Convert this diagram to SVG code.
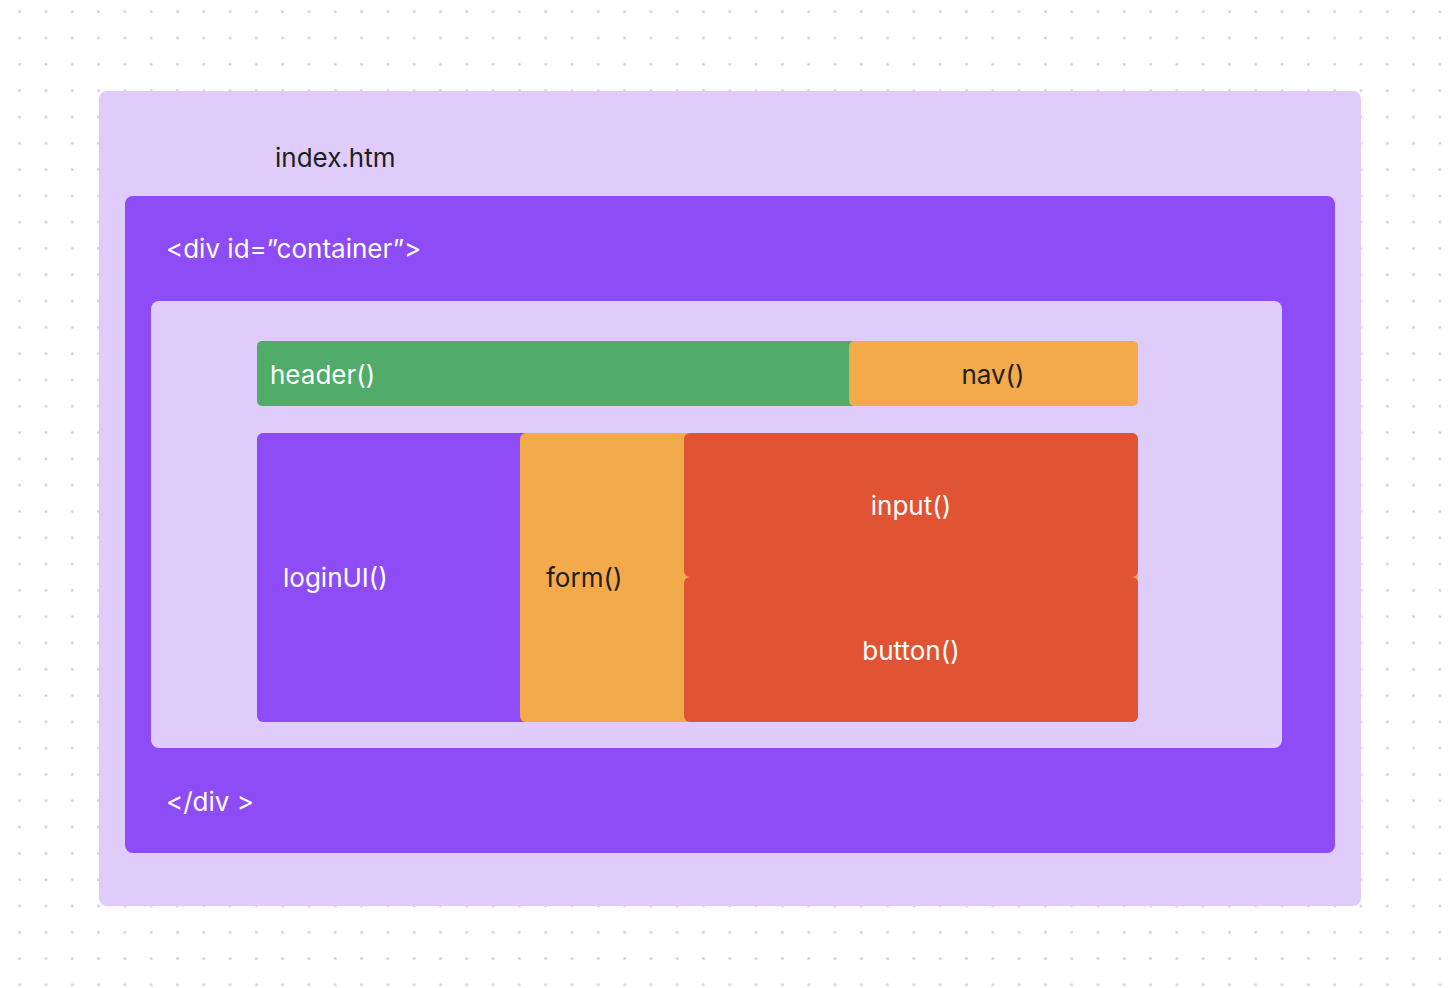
<svg xmlns="http://www.w3.org/2000/svg" width="1448" height="988" viewBox="0 0 1448 988">
  <defs>
    <pattern id="dots" patternUnits="userSpaceOnUse" x="6.55" y="-1.45" width="26.3" height="26.3">
      <circle cx="13.15" cy="13.15" r="1.5" fill="#d4d4d4"/>
    </pattern>
    <style>
      .lbl { font-family: Inter, "Liberation Sans", sans-serif; font-size: 26px; }
      .w { fill: #ffffff; }
      .d { fill: #1e1e1e; }
      .lav { fill: #e0ccfa; }
      .pur { fill: #8d4cf6; }
      .grn { fill: #50ac68; }
      .org { fill: #f2aa4a; }
      .red { fill: #e05433; }
    </style>
  </defs>
  <rect width="1448" height="988" fill="#ffffff"/>
  <rect width="1448" height="988" fill="url(#dots)"/>

  <g id="index-htm">
    <rect class="lav" x="99" y="91" width="1262" height="815" rx="8"/>
    <text class="lbl d" x="275" y="167">index.htm</text>
  </g>
  <g id="container">
    <rect class="pur" x="125" y="196" width="1210" height="657" rx="8"/>
    <text class="lbl w" x="166" y="258" font-size="25.6">&lt;div id=”container”&gt;</text>
    <text class="lbl w" x="166" y="811">&lt;/div &gt;</text>
  </g>
  <g id="content">
    <rect class="lav" x="151" y="301" width="1131" height="447" rx="8"/>
  </g>
  <g id="header">
    <rect class="grn" x="257" y="341" width="650" height="65" rx="5"/>
    <text class="lbl w" x="270" y="384">header()</text>
  </g>
  <g id="nav">
    <rect class="org" x="849" y="341" width="289" height="65" rx="5"/>
    <text class="lbl d" x="993" y="384" text-anchor="middle">nav()</text>
  </g>
  <g id="loginUI">
    <rect class="pur" x="257" y="433" width="300" height="289" rx="6"/>
    <text class="lbl w" x="283" y="587">loginUI()</text>
  </g>
  <g id="form">
    <rect class="org" x="520" y="433" width="618" height="289" rx="6"/>
    <text class="lbl d" x="546" y="587">form()</text>
  </g>
  <g id="input">
    <rect class="red" x="684" y="433" width="454" height="144" rx="6"/>
    <text class="lbl w" x="911" y="515" text-anchor="middle">input()</text>
  </g>
  <g id="button">
    <rect class="red" x="684" y="577" width="454" height="145" rx="6"/>
    <text class="lbl w" x="911" y="660" text-anchor="middle">button()</text>
  </g>
  <g id="connectors"></g>
</svg>
